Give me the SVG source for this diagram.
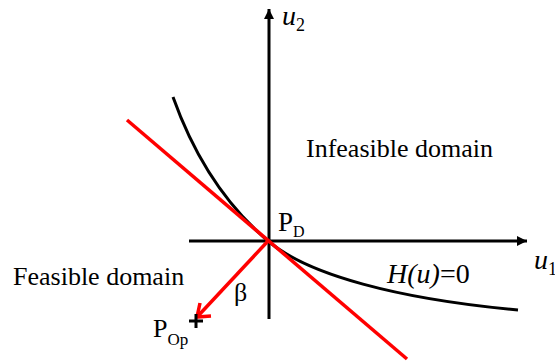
<svg xmlns="http://www.w3.org/2000/svg" width="555" height="362" viewBox="0 0 555 362">
<defs>
<marker id="ah" viewBox="0 0 10 10" refX="10" refY="5" markerWidth="10" markerHeight="10" markerUnits="userSpaceOnUse" orient="auto">
<path d="M0,0 L10,5 L0,10 Z" fill="#000"/>
</marker>
</defs>
<style>
.ax{stroke:#000;stroke-width:3;fill:none}
.cv{stroke:#000;stroke-width:3;fill:none}
.rd{stroke:#f00;stroke-width:3.5;fill:none}
.t{font-family:"Liberation Serif","Times New Roman",serif;fill:#000}
.i{font-style:italic}
</style>
<rect width="555" height="362" fill="#fff"/>
<g id="connectors">
<line class="ax" x1="269" y1="319" x2="269" y2="9" marker-end="url(#ah)"/>
<line class="ax" x1="189" y1="241" x2="527" y2="241" marker-end="url(#ah)"/>
<path id="curve" class="cv" d="M173,97 C183,125 208,190 268,241 C308,275 398,299 518,310"/>
<line id="tangent" class="rd" x1="127" y1="120" x2="407" y2="359"/>
<g id="beta-arrow">
<line class="rd" x1="268" y1="241" x2="198" y2="316"/>
<polyline class="rd" points="200,303 197,317 211,316" stroke-linejoin="miter"/>
</g>
</g>
<g id="P_Op">
<path d="M189,321 H203 M196,314 V328" stroke="#000" stroke-width="3" fill="none"/>
<text class="t" x="153" y="337" font-size="26">P<tspan font-size="17" dy="8">Op</tspan></text>
</g>
<g id="P_D">
<text class="t" x="278" y="231" font-size="27">P<tspan font-size="16" dy="6">D</tspan></text>
</g>
<g id="labels">
<text class="t i" x="282" y="25" font-size="28">u<tspan class="t" font-style="normal" font-size="18" dy="6">2</tspan></text>
<text class="t i" x="534" y="269" font-size="28">u<tspan font-style="normal" font-size="18" dy="6">1</tspan></text>
<text class="t" x="306" y="157" font-size="26">Infeasible domain</text>
<text class="t" x="13" y="285" font-size="26">Feasible domain</text>
<text class="t" x="387" y="283" font-size="28"><tspan class="i">H(u)</tspan>=0</text>
<text class="t" x="234" y="301" font-size="26">β</text>
</g>
</svg>
